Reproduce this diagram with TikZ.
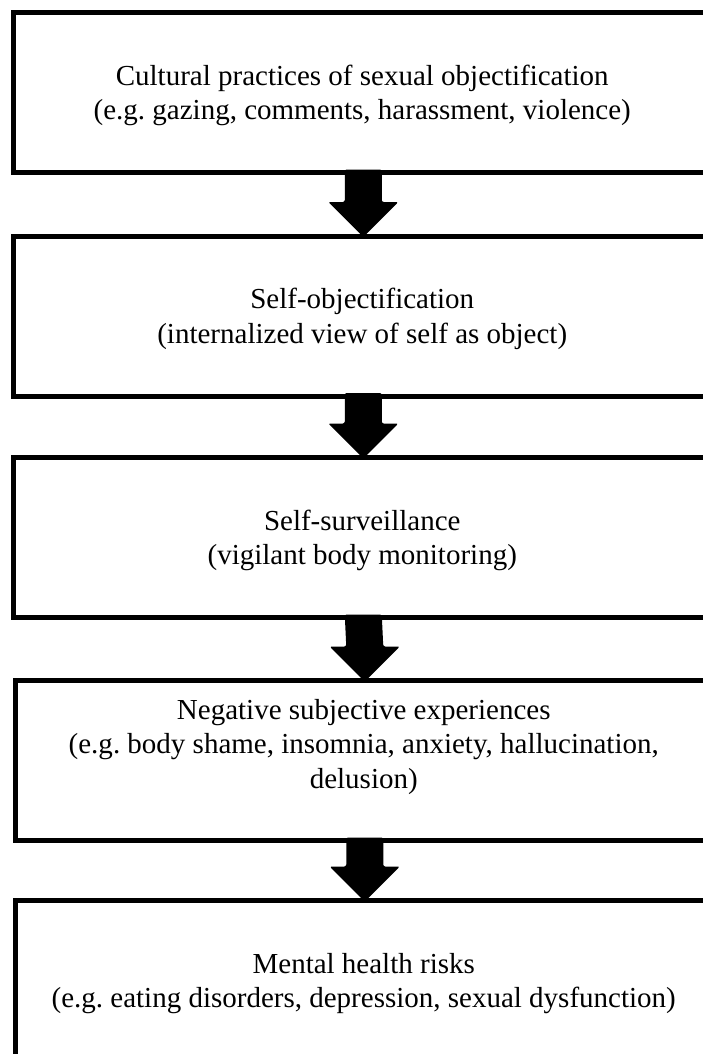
\documentclass[tikz,border=0pt]{standalone}
\usepackage{fontspec}
\setmainfont{Liberation Serif}
\frenchspacing
\usetikzlibrary{calc}
\tikzset{
  flowbox/.style={draw=black, line width=5pt, minimum width=697.5pt, minimum height=160pt,
    inner sep=0pt, outer sep=0pt, anchor=north west},
  boxtext/.style={align=center, inner sep=0pt, outer sep=0pt,
    font=\fontsize{29}{34.5}\selectfont},
  arrowfill/.style={fill=black, rounded corners=2pt}
}
\begin{document}
\begin{tikzpicture}[x=1pt,y=-1pt]
\useasboundingbox (0,0) rectangle (703,1054);
\clip (0,0) rectangle (703,1054);
\fill[white] (0,0) rectangle (703,1054);

\node[flowbox] (b1) at (13.5,12.5) {};
\node[flowbox] (b2) at (13.5,236) {};
\node[flowbox] (b3) at (13.5,457.5) {};
\node[flowbox] (b4) at (15,680.5) {};
\node[flowbox] (b5) at (15,900.5) {};

\foreach \a/\b in {b1/b2,b2/b3,b3/b4,b4/b5}{
  \fill[arrowfill]
    ($(\a.south)+(1-18.5,-3)$) -- ($(\a.south)+(1+18.5,-3)$)
    -- ($(\b.north)+(1+18.5,-34)$) -- ($(\b.north)+(1+35,-34)$)
    -- ($(\b.north)+(1,1)$)
    -- ($(\b.north)+(1-35,-34)$) -- ($(\b.north)+(1-18.5,-34)$) -- cycle;
}

\node[boxtext] (t1) at ($(b1.center)+(0,3)$)
  {Cultural practices of sexual objectification\\(e.g. gazing, comments, harassment, violence)};
\node[boxtext] (t2) at ($(b2.center)+(0,3)$)
  {Self-objectification\\(internalized view of self as object)};
\node[boxtext] (t3) at ($(b3.center)+(0,3)$)
  {Self-surveillance\\(vigilant body monitoring)};
\node[boxtext] (t4) at ($(b4.center)+(0,-13.7)$)
  {Negative subjective experiences\\(e.g. body shame, insomnia, anxiety, hallucination,\\delusion)};
\node[boxtext] (t5) at ($(b5.center)+(0,3)$)
  {Mental health risks\\(e.g. eating disorders, depression, sexual dysfunction)};
\end{tikzpicture}
\end{document}
